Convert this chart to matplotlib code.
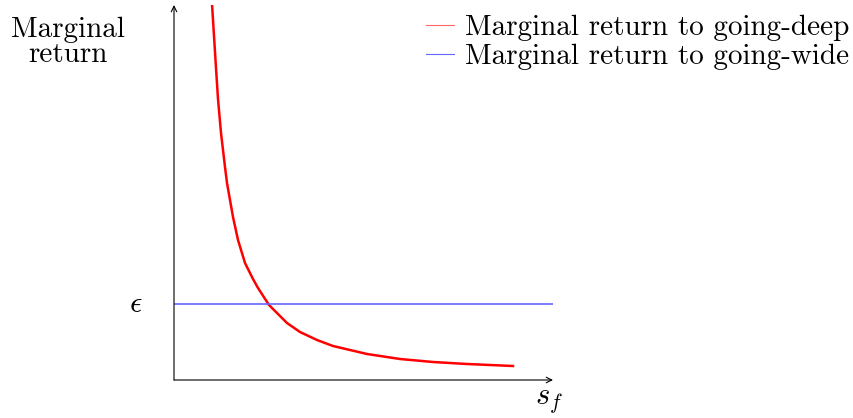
import matplotlib
matplotlib.use("Agg")
import matplotlib.pyplot as plt

plt.rcParams['font.family'] = ['cmr10', 'DejaVu Serif']
plt.rcParams['mathtext.fontset'] = 'cm'
plt.rcParams['axes.formatter.use_mathtext'] = True

# red curve (x, y in axis units)
deep_x = [38, 40, 42, 44, 47, 49, 51, 53, 56, 59, 64, 71, 79, 84, 95, 113, 126, 143, 159, 193, 226, 259, 293, 339]
deep_y = [376, 344, 312, 281, 247, 230, 213, 197, 180, 163, 140, 117, 101, 92, 75, 57, 48, 40, 34, 26, 21, 18, 16, 14]
wide_x = [0, 379]
wide_y = [76, 76]
epsilon = 76

fig = plt.figure(figsize=(8.54, 4.18), dpi=100)
ax = fig.add_axes([174 / 854, 38 / 418, 379 / 854, 375 / 418])
ax.set_xlim(0, 379)
ax.set_ylim(0, 375)
for s in ax.spines.values():
    s.set_visible(False)
ax.set_xticks([])
ax.set_yticks([])

# axes with arrow heads
ax.annotate('', xy=(1.0, 0), xytext=(0, 0), xycoords='axes fraction',
            arrowprops=dict(arrowstyle='->', color='black', lw=0.8, shrinkA=0, shrinkB=0))
ax.annotate('', xy=(0, 1.0), xytext=(0, 0), xycoords='axes fraction',
            arrowprops=dict(arrowstyle='->', color='black', lw=0.8, shrinkA=0, shrinkB=0))

ax.plot(deep_x, deep_y, color='red', lw=1.8, solid_joinstyle='round')
ax.plot(wide_x, wide_y, color='#6666ff', lw=1.2)

ax.text(-38, epsilon, r'$\epsilon$', fontsize=22, ha='center', va='center')
ax.text(0.99, -0.02, r'$s_f$', transform=ax.transAxes, fontsize=22, ha='center', va='top')
fig.text(68 / 854, 1 - 42 / 418, 'Marginal\nreturn', fontsize=21, ha='center', va='center',
         linespacing=0.95)

leg_deep, = ax.plot([], [], color='#ff6666', lw=0.8)
leg_wide, = ax.plot([], [], color='#6666ff', lw=0.8)
fig.legend([leg_deep, leg_wide],
           ['Marginal return to going-deep', 'Marginal return to going-wide'],
           loc='upper right', bbox_to_anchor=(1.012, 1.0), frameon=False, fontsize=21,
           handlelength=0.96, handletextpad=0.38, labelspacing=0.1, borderaxespad=0.1)

fig.savefig('out.png', dpi=100)
